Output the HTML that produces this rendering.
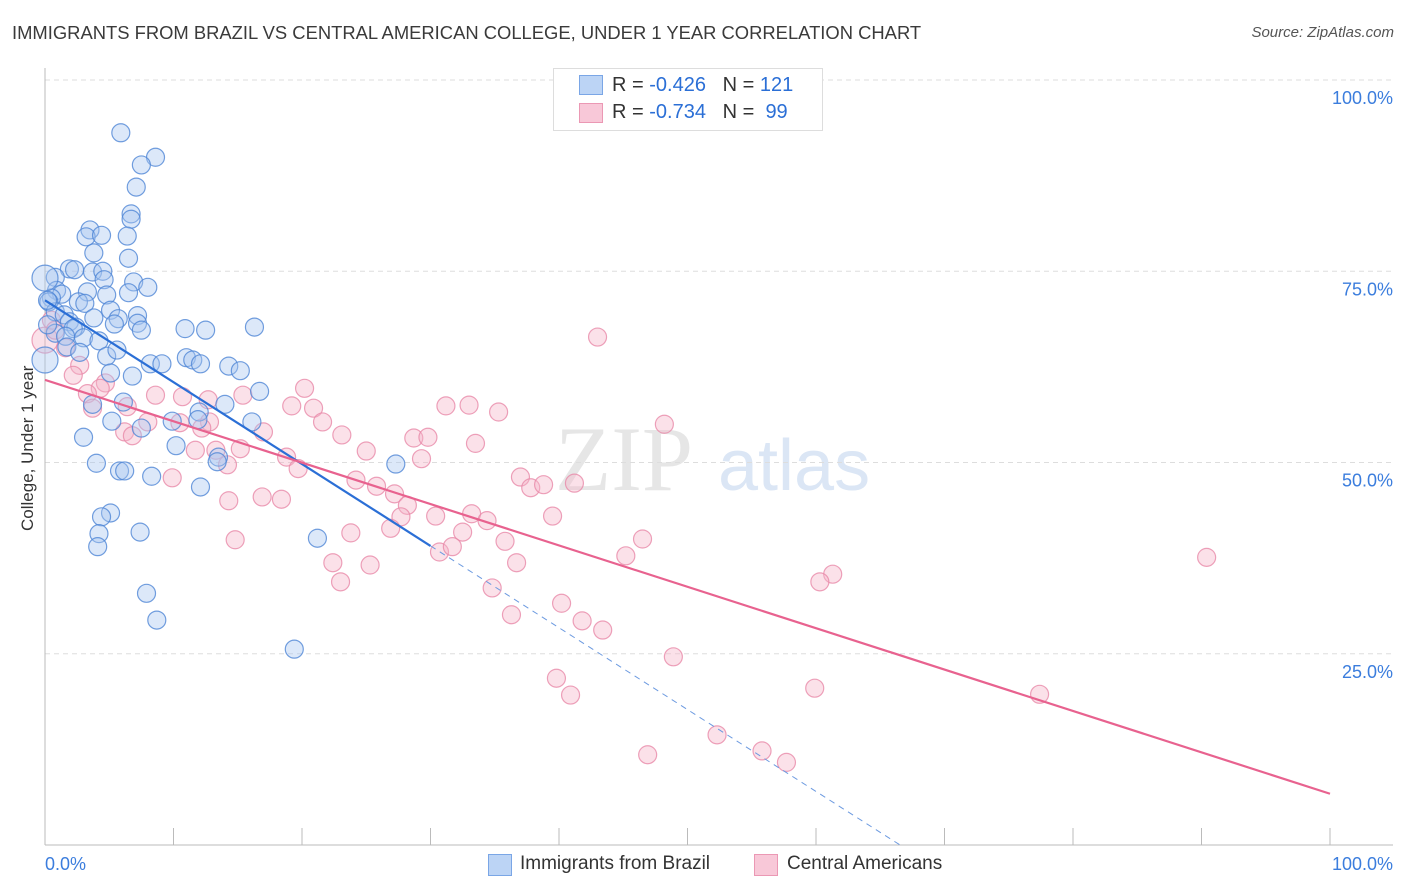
<!DOCTYPE html>
<html><head><meta charset="utf-8"><style>
body{margin:0;background:#fff;font-family:"Liberation Sans",sans-serif}
#wrap{position:relative;width:1406px;height:892px}
.t{position:absolute;white-space:nowrap}
</style></head><body>
<div id="wrap">
<div class="t" style="left:12px;top:22px;font-size:18.4px;color:#3a3a3a">IMMIGRANTS FROM BRAZIL VS CENTRAL AMERICAN COLLEGE, UNDER 1 YEAR CORRELATION CHART</div>
<div class="t" style="right:12px;top:24px;font-size:15px;color:#555;font-style:italic">Source: ZipAtlas.com</div>
<div class="t" style="left:-47px;top:446px;font-size:17px;color:#333;transform:rotate(-90deg);width:150px;text-align:center">College, Under 1 year</div>
<svg id="svg" width="1406" height="892" style="position:absolute;left:0;top:0"></svg>
<div style="position:absolute;left:553px;top:68px;width:268px;height:61px;border:1px solid #ddd;background:#fff;font-size:20px;color:#333">
<div style="position:absolute;left:25px;top:6px;width:22px;height:18px;background:#bcd4f5;border:1px solid #7aa6e6"></div>
<div class="t" style="left:58px;top:5px">R = <span style="color:#2b6fd6">-0.426</span>&nbsp;&nbsp;&nbsp;N = <span style="color:#2b6fd6">121</span></div>
<div style="position:absolute;left:25px;top:34px;width:22px;height:18px;background:#f8c8d8;border:1px solid #eb98b4"></div>
<div class="t" style="left:58px;top:32px">R = <span style="color:#2b6fd6">-0.734</span>&nbsp;&nbsp;&nbsp;N = &nbsp;<span style="color:#2b6fd6">99</span></div>
</div>
<div style="position:absolute;left:488px;top:852px;font-size:19px;color:#333">
<div style="position:absolute;left:0;top:2px;width:22px;height:20px;background:#bcd4f5;border:1px solid #7aa6e6"></div>
<div class="t" style="left:32px;top:1px">Immigrants from Brazil</div>
<div style="position:absolute;left:266px;top:2px;width:22px;height:20px;background:#f8c8d8;border:1px solid #eb98b4"></div>
<div class="t" style="left:299px;top:1px">Central Americans</div>
</div>
</div>
<script>
const xTicks=[0,10,20,30,40,50,60,70,80,90,100];
const yTicks=[25,50,75,100];
const yTickLabels=["25.0%","50.0%","75.0%","100.0%"];
const blueX=[5.9,8.6,7.5,7.1,6.7,6.7,3.5,3.2,4.4,6.4,3.8,6.5,1.9,2.3,3.7,4.5,0.8,4.6,6.9,8.0,0.9,1.3,3.3,4.8,0.5,0.3,6.5,2.6,3.1,5.1,7.2,0.8,1.5,1.9,5.7,7.2,5.4,7.5,2.4,2.2,3.8,0.8,1.6,3.0,4.2,10.9,12.5,16.3,1.7,2.7,4.8,5.6,11.0,11.5,12.1,14.3,8.2,9.1,15.2,6.8,5.1,16.7,6.1,3.7,14.0,9.9,12.0,11.9,5.2,7.5,16.1,3.0,10.2,13.5,13.4,4.0,5.8,6.2,8.3,12.1,27.3,5.1,4.4,7.4,4.2,4.1,21.2,7.9,8.7,19.4,0,0.2,0,0.2];
const blueY=[93.1,89.9,88.9,86.0,82.5,81.8,80.4,79.5,79.7,79.6,77.4,76.7,75.3,75.2,74.9,75.0,74.2,73.9,73.6,72.9,72.5,72.0,72.3,71.9,71.5,71.0,72.2,71.0,70.8,69.9,69.2,69.7,69.3,68.4,68.8,68.2,68.1,67.3,67.7,67.5,68.9,66.9,66.5,66.3,65.9,67.5,67.3,67.7,65.1,64.4,63.9,64.7,63.7,63.4,62.9,62.6,62.9,62.9,62.0,61.3,61.7,59.3,57.9,57.6,57.6,55.4,56.6,55.6,55.4,54.5,55.3,53.3,52.2,50.7,50.1,49.9,48.9,48.9,48.2,46.8,49.8,43.4,42.9,40.9,40.7,39.0,40.1,32.9,29.4,25.6,74.1,71.2,63.4,68.0];
const pinkX=[43.0,1.6,2.7,2.2,4.7,4.3,20.2,8.6,10.7,15.4,3.3,12.7,19.2,20.9,31.2,33.0,35.3,6.4,12.8,8.0,10.5,3.7,21.6,12.2,17.0,23.1,6.2,6.8,28.7,29.8,33.5,13.3,11.7,48.2,25.0,15.2,18.8,29.3,14.2,19.7,37.0,24.2,37.8,38.8,41.2,25.8,27.2,28.2,9.9,14.3,16.9,18.4,30.4,33.2,39.5,34.4,27.7,26.9,32.5,23.8,14.8,35.8,30.7,31.7,46.5,45.2,22.4,25.3,36.7,23.0,34.8,40.2,90.4,61.3,60.3,36.3,41.8,43.4,48.9,39.8,40.9,59.9,77.4,52.3,46.9,55.8,57.7,0,0.5,0.8];
const pinkY=[66.4,65.0,62.7,61.4,60.4,59.7,59.7,58.8,58.6,58.8,59.0,58.2,57.4,57.1,57.4,57.5,56.6,57.3,55.3,55.3,55.2,57.1,55.3,54.5,54.0,53.6,54.0,53.5,53.2,53.3,52.5,51.6,51.6,55.0,51.5,51.8,50.7,50.5,49.7,49.2,48.1,47.7,46.7,47.1,47.3,46.9,45.9,44.4,48.0,45.0,45.5,45.2,43.0,43.3,43.0,42.4,42.9,41.4,40.9,40.8,39.9,39.7,38.3,39.0,40.0,37.8,36.9,36.6,36.9,34.4,33.6,31.6,37.6,35.4,34.4,30.1,29.3,28.1,24.6,21.8,19.6,20.5,19.7,14.4,11.8,12.3,10.8,66.0,68.6,67.3];
const blueTrend=[71.2,-1.07];   // intercept, slope
const blueSolidEnd=30, blueDashEnd=66.8;
const pinkTrend=[60.8,-0.541];
const pinkEnd=100;

const X=v=>45+v*12.85, Y=v=>845-v*7.65;
const svg=document.getElementById('svg'), NS='http://www.w3.org/2000/svg';
function mk(tag,attrs,parent){const e=document.createElementNS(NS,tag);for(const k in attrs)e.setAttribute(k,attrs[k]);(parent||svg).appendChild(e);return e;}
let wm=mk('text',{x:555,y:490,'font-size':92,'font-family':'Liberation Serif, serif',fill:'#e6e6e6'});wm.textContent='ZIP';


let wm2=mk('text',{x:718,y:490,'font-size':72,'font-family':'Liberation Sans, sans-serif',fill:'#dbe6f5'});wm2.textContent='atlas';


yTicks.forEach((t,i)=>{
 const g=mk('line',{x1:45,x2:1393,y1:Y(t),y2:Y(t),stroke:'#ddd','stroke-dasharray':'5,4'});
 
 
 const l=mk('text',{x:1393,y:Y(t)+24,'text-anchor':'end','font-size':18,fill:'#3b7ddd','font-family':'Liberation Sans, sans-serif'});
 l.textContent=yTickLabels[i];
 
 
});
let ax=mk('line',{x1:45,x2:45,y1:68,y2:845,stroke:'#bbb'});


let bx=mk('line',{x1:45,x2:1393,y1:845,y2:845,stroke:'#bbb'});


xTicks.forEach(t=>{const tk=mk('line',{x1:X(t),x2:X(t),y1:828,y2:845,stroke:'#bbb'});
 
 });
[[0,'0.0%','start',45],[100,'100.0%','end',1393]].forEach(a=>{const l=mk('text',{x:a[3],y:870,'text-anchor':a[2],'font-size':18,fill:'#3b7ddd','font-family':'Liberation Sans, sans-serif'});l.textContent=a[1];
 
 });
function pts(xs,ys,fill,stroke,name){xs.forEach((x,i)=>{const big=(x===0);const c=mk('circle',{cx:X(x),cy:Y(ys[i]),r:big?13:9,fill:fill,'fill-opacity':0.4,stroke:stroke,'stroke-width':1.2,'stroke-opacity':0.8});
 
 });}
pts(pinkX,pinkY,'#f5b3c8','#e98aa9','point-central-americans');
pts(blueX,blueY,'#a8c6f0','#4f86d6','point-brazil');
const f=(t,x)=>t[0]+t[1]*x;
let bl=mk('line',{x1:X(0),y1:Y(f(blueTrend,0)),x2:X(blueSolidEnd),y2:Y(f(blueTrend,blueSolidEnd)),stroke:'#2b6fd6','stroke-width':2.2});


let bd=mk('line',{x1:X(blueSolidEnd),y1:Y(f(blueTrend,blueSolidEnd)),x2:X(blueDashEnd),y2:Y(f(blueTrend,blueDashEnd)),stroke:'#6c9ae0','stroke-width':1,'stroke-dasharray':'6,5'});


let pl=mk('line',{x1:X(0),y1:Y(f(pinkTrend,0)),x2:X(pinkEnd),y2:Y(f(pinkTrend,pinkEnd)),stroke:'#e8628f','stroke-width':2.2});


</script>
</body></html>
